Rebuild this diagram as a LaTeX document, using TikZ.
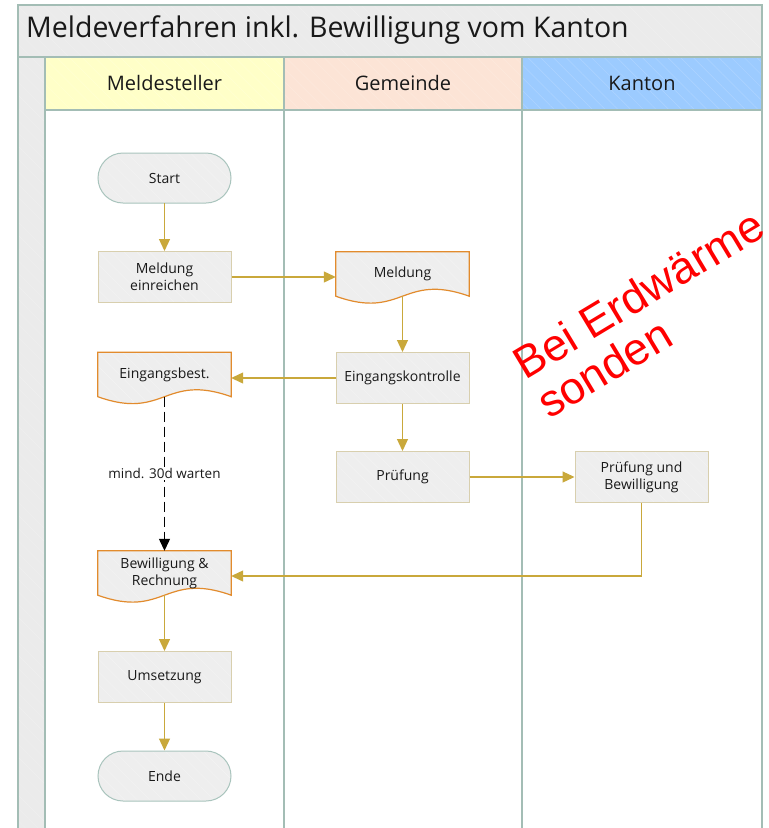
\documentclass[tikz,border=0pt]{standalone}
\usepackage{fontspec}
\setmainfont{Open Sans}
\newfontfamily\redfont{Liberation Sans}
\usetikzlibrary{arrows.meta,patterns.meta,calc}
\definecolor{poolline}{HTML}{A3BDB5}
\definecolor{titlegrey}{HTML}{EBEBEB}
\definecolor{hatchgrey}{HTML}{F3F3F3}
\definecolor{hdryellow}{HTML}{FFFFC8}
\definecolor{hdrpeach}{HTML}{FCE4D6}
\definecolor{hdrblue}{HTML}{9CCBFF}
\definecolor{nodegrey}{HTML}{EEEEEE}
\definecolor{rectline}{HTML}{D8CFAE}
\definecolor{docline}{HTML}{E28B2D}
\definecolor{termline}{HTML}{A9C4BD}
\definecolor{flow}{HTML}{C9A83B}
\definecolor{redtext}{HTML}{FF0000}
\pgfdeclarelayer{lanes}
\pgfdeclarelayer{shapes}
\pgfsetlayers{lanes,shapes,main}
\tikzset{
  hatch/.style={preaction={fill=#1}, pattern={Lines[angle=-45,distance=9pt,line width=0.5pt]}, pattern color=#1!82!white},
  lanebox/.style={draw=poolline, line width=1.1pt},
  procbox/.style={draw=rectline, line width=1pt, preaction={fill=nodegrey}, pattern={Lines[angle=-45,distance=9pt,line width=0.4pt]}, pattern color=hatchgrey, minimum width=133pt, minimum height=51pt, inner sep=0pt, align=center, font=\fontsize{14}{17}\selectfont},
  termbox/.style={procbox, draw=termline, rounded corners=25pt, minimum height=50pt},
  docbox/.style={minimum width=133pt, minimum height=44pt, inner sep=0pt, align=center, font=\fontsize{14}{17}\selectfont},
  docshape/.style={draw=docline, line width=1.2pt, preaction={fill=nodegrey}, pattern={Lines[angle=-45,distance=9pt,line width=0.4pt]}, pattern color=hatchgrey},
  flowarrow/.style={draw=flow, line width=1.2pt, -{Triangle[width=11pt,length=12pt]}},
  waitarrow/.style={draw=black, line width=1.2pt, dash pattern=on 10pt off 5pt, -{Triangle[width=11pt,length=12pt]}},
  lanehead/.style={font=\fontsize{20}{24}\selectfont}
}
\newcommand\docwave[1]{%
  \path[docshape] (#1.north west) -- (#1.north east) -- (#1.south east)
    .. controls ($(#1.south)+(0,-24)$) and ($(#1.south)+(0,24)$) .. (#1.south west) -- cycle;}
\begin{document}
\begin{tikzpicture}[x=1pt,y=-1pt,every node/.style={text=black!90}]
\useasboundingbox (0,0) rectangle (769,828);
\begin{pgfonlayer}{lanes}
  \fill[white] (0,0) rectangle (769,828);
  % title band and left strip
  \path[hatch=titlegrey] (18,5) rectangle (762,57);
  \path[hatch=titlegrey] (18,57) rectangle (45,828);
  % lane headers
  \path[hatch=hdryellow] (45,57) rectangle (284,110);
  \path[hatch=hdrpeach] (284,57) rectangle (522,110);
  \path[hatch=hdrblue] (522,57) rectangle (762,110);
  % lines
  \draw[lanebox] (18,828) -- (18,5) -- (762,5) -- (762,828);
  \draw[lanebox] (18,57) -- (762,57);
  \draw[lanebox] (45,110) -- (762,110);
  \draw[lanebox] (45,57) -- (45,828);
  \draw[lanebox] (284,57) -- (284,828);
  \draw[lanebox] (522,57) -- (522,828);
\end{pgfonlayer}
% title and headers
\node[anchor=west, font=\fontsize{28.5}{32}\selectfont, inner sep=0pt] (title) at (26,30) {Meldeverfahren inkl. Bewilligung vom Kanton};
\node[lanehead] (h1) at (164.5,83) {Meldesteller};
\node[lanehead] (h2) at (403,83) {Gemeinde};
\node[lanehead] (h3) at (642,83) {Kanton};
% process nodes
\node[termbox] (start) at (164.5,178) {Start};
\node[procbox] (einr) at (164.5,277) {Meldung\\einreichen};
\node[docbox] (meld) at (402.5,274) {Meldung};
\node[docbox] (eingb) at (164.5,374.5) {Eingangsbest.};
\node[procbox] (kontr) at (402.5,378) {Eingangskontrolle};
\node[procbox] (pruef) at (402.5,477) {Prüfung};
\node[procbox] (bew) at (641.5,477) {Prüfung und\\Bewilligung};
\node[docbox] (rech) at (164.5,573) {Bewilligung \&\\Rechnung};
\node[procbox] (ums) at (164.5,677) {Umsetzung};
\node[termbox] (ende) at (164.5,776) {Ende};
\begin{pgfonlayer}{shapes}
  \docwave{meld}
  \docwave{eingb}
  \docwave{rech}
\end{pgfonlayer}
% connectors
\draw[flowarrow] (start) -- (einr);
\draw[flowarrow] (einr.east) -- (einr.east -| meld.west);
\draw[flowarrow] (meld.south) -- (kontr.north);
\draw[flowarrow] (kontr.west) -- (kontr.west -| eingb.east);
\draw[flowarrow] (kontr) -- (pruef);
\draw[flowarrow] (pruef) -- (bew);
\draw[flowarrow] (bew.south) |- ([yshift=-3pt]rech.east);
\draw[flowarrow] (rech.south) -- (ums.north);
\draw[flowarrow] (ums) -- (ende);
\draw[waitarrow] (eingb.south) -- node[fill=white, inner sep=1pt, font=\fontsize{13.5}{16}\selectfont] (waitlbl) {mind. 30d warten} (rech.north);
% red annotation
\node[rotate=31, anchor=base west, align=left, inner sep=0pt, text=redtext, font=\redfont\fontsize{45}{46}\selectfont] (note) at (549,420) {Bei Erdwärme\\sonden};
\end{tikzpicture}
\end{document}
